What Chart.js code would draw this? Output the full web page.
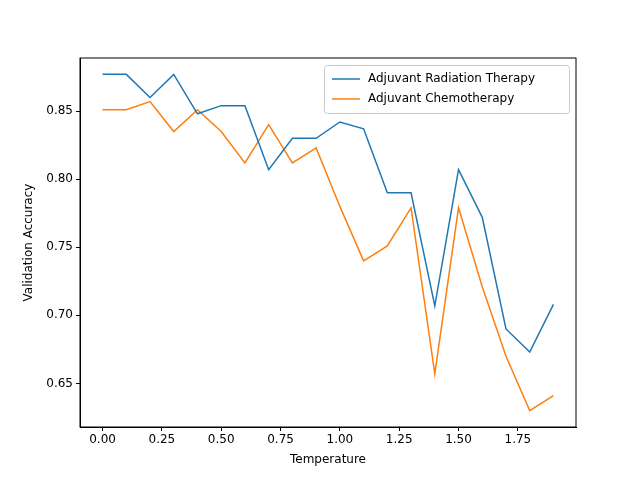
<!DOCTYPE html>
<html><head><script src="https://cdn.jsdelivr.net/npm/chart.js@4"></script>
<style>body{margin:0}</style></head>
<body><div style="width:640px;height:480px"><canvas id="c"></canvas></div>
<script>
const temperatures=[0,0.1,0.2,0.3,0.4,0.5,0.6,0.7,0.8,0.9,1.0,1.1,1.2,1.3,1.4,1.5,1.6,1.7,1.8,1.9];
const radiation=[0.877,0.877,0.860,0.877,0.848,0.854,0.854,0.807,0.830,0.830,0.842,0.837,0.790,0.790,0.707,0.807,0.772,0.690,0.673,0.708];
const chemo=[0.851,0.851,0.857,0.835,0.851,0.835,0.812,0.840,0.812,0.823,0.780,0.740,0.751,0.779,0.657,0.779,0.721,0.670,0.630,0.641];
const seriesNames=['Adjuvant Radiation Therapy','Adjuvant Chemotherapy'];
const colors=['#1f77b4','#ff7f0e'];
const font={family:'DejaVu Sans',size:12};
const legendPlugin={id:'boxLegend',afterDraw(ch){
  const c=ch.ctx,a=ch.chartArea;c.save();c.font='12px "DejaVu Sans"';
  const w=245,h=48,x=a.right-w-7,y=a.top+7;
  c.fillStyle='rgba(255,255,255,0.8)';c.strokeStyle='#ccc';c.lineWidth=1;
  c.beginPath();c.roundRect(x+0.5,y+0.5,w,h,3);c.fill();c.stroke();
  ch.data.datasets.forEach((d,i)=>{const yy=y+14+i*20;
    c.strokeStyle=d.borderColor;c.lineWidth=1.5;c.beginPath();c.moveTo(x+8,yy);c.lineTo(x+36,yy);c.stroke();
    c.fillStyle='#000';c.textBaseline='middle';c.fillText(d.label,x+44,yy);});
  c.restore();}};
new Chart(document.getElementById('c'),{type:'line',
 data:{datasets:[radiation,chemo].map((v,i)=>({label:seriesNames[i],data:temperatures.map((t,j)=>({x:t,y:v[j]})),borderColor:colors[i],backgroundColor:colors[i],borderWidth:1.5,pointRadius:0,tension:0}))},
 options:{responsive:true,maintainAspectRatio:false,animation:false,
  layout:{padding:{left:18,right:64,top:58,bottom:9}},
  plugins:{legend:{display:false},tooltip:{enabled:false}},
  scales:{
   x:{type:'linear',min:-0.095,max:1.995,afterFit(s){s.height=44;},
     afterBuildTicks(s){s.ticks=[0,0.25,0.5,0.75,1,1.25,1.5,1.75].map(v=>({value:v}));},
     ticks:{color:'#000',font,callback:v=>v.toFixed(2),maxRotation:0,padding:2},
     grid:{drawOnChartArea:false,color:'#000',tickLength:4},border:{color:'#000'},
     title:{display:true,text:'Temperature',color:'#000',font,padding:{top:2}}},
   y:{min:0.618,max:0.889,afterFit(s){s.width=62;},
     afterBuildTicks(s){s.ticks=[0.65,0.7,0.75,0.8,0.85].map(v=>({value:v}));},
     ticks:{color:'#000',font,callback:v=>v.toFixed(2),padding:3},
     grid:{drawOnChartArea:false,color:'#000',tickLength:4},border:{color:'#000'},
     title:{display:true,text:'Validation Accuracy',color:'#000',font}}}},
 plugins:[legendPlugin,{id:'frame',afterDraw(ch){const c=ch.ctx,a=ch.chartArea;c.save();c.strokeStyle='#000';c.lineWidth=1;c.strokeRect(a.left,a.top,a.right-a.left,a.bottom-a.top);c.restore();}}]});
</script></body></html>
